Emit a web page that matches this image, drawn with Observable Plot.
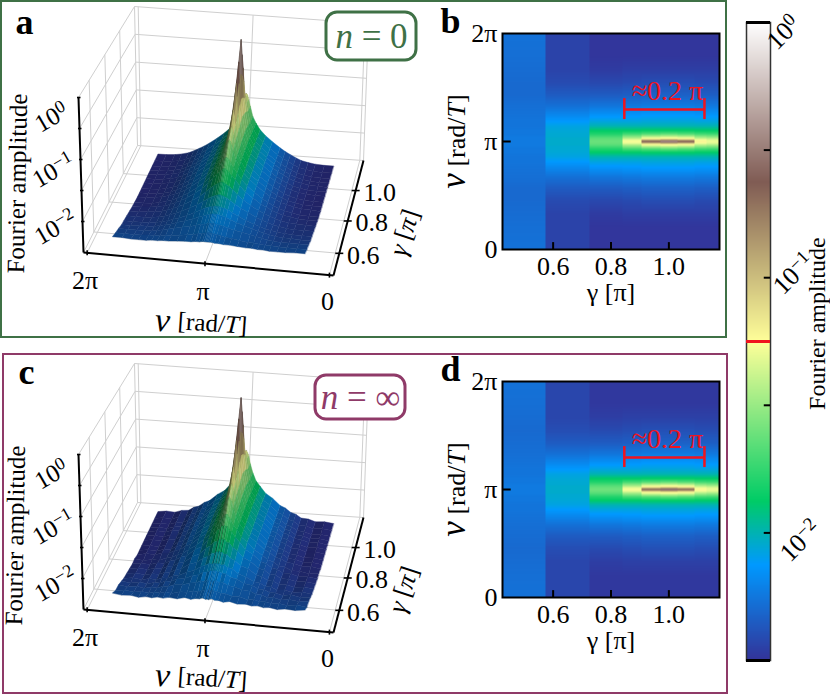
<!DOCTYPE html>
<html><head><meta charset="utf-8">
<script src="https://cdn.jsdelivr.net/npm/d3@7"></script>
<script src="https://cdn.jsdelivr.net/npm/@observablehq/plot@0.6"></script>
<style>
html,body{margin:0;padding:0;background:#fff}
#root{position:relative;width:830px;height:695px;overflow:hidden;font-family:"Liberation Serif",serif}
#root svg{position:absolute;background:transparent;overflow:visible}
.box{position:absolute;box-sizing:border-box}
</style></head><body><div id="root"></div>
<script>
const PI = Math.PI;
// colour map stops (position, colour)
const cmapStops = [0, 0.15, 0.25, 0.5, 0.75, 1];
const cmapColors = ["rgb(51,51,153)","rgb(0,153,255)","rgb(0,204,102)","rgb(255,255,153)","rgb(128,92,84)","rgb(255,255,255)"];
const logDomain = [-2.5, 0];

// heat-map columns (gamma bins, in units of pi) and |nu - pi| samples
const gammaEdges = [0.425, 0.575, 0.725, 0.84, 0.905, 0.97, 1.03, 1.09, 1.13, 1.175];
const heatOffsets = [0, 0.03, 0.06, 0.1, 0.15, 0.22, 0.32, 0.45, 0.6, 0.8, 1.05, 1.35, 1.7, 2.1, 2.5, 3.15];
// log10 amplitude per column
const heatB = [
 [-2.24,-2.24,-2.24,-2.24,-2.24,-2.25,-2.25,-2.26,-2.26,-2.27,-2.28,-2.30,-2.30,-2.29,-2.28,-2.27],
 [-2.04,-2.04,-2.04,-2.04,-2.05,-2.05,-2.06,-2.08,-2.13,-2.20,-2.28,-2.35,-2.41,-2.44,-2.44,-2.44],
 [-1.62,-1.62,-1.63,-1.66,-1.72,-1.80,-1.88,-2.00,-2.08,-2.16,-2.26,-2.35,-2.42,-2.47,-2.49,-2.49],
 [-1.27,-1.28,-1.33,-1.45,-1.56,-1.72,-1.88,-2.00,-2.08,-2.15,-2.25,-2.34,-2.41,-2.46,-2.49,-2.49],
 [-0.62,-0.80,-1.10,-1.28,-1.45,-1.68,-1.87,-2.00,-2.07,-2.14,-2.24,-2.33,-2.40,-2.46,-2.49,-2.49],
 [-0.30,-0.70,-1.05,-1.25,-1.42,-1.65,-1.87,-2.00,-2.07,-2.14,-2.24,-2.33,-2.40,-2.46,-2.49,-2.49],
 [-0.62,-0.80,-1.10,-1.28,-1.45,-1.68,-1.87,-2.00,-2.07,-2.14,-2.24,-2.33,-2.40,-2.46,-2.49,-2.49],
 [-1.20,-1.24,-1.31,-1.42,-1.55,-1.72,-1.88,-2.00,-2.08,-2.15,-2.25,-2.34,-2.41,-2.46,-2.49,-2.49],
 [-1.30,-1.31,-1.35,-1.46,-1.57,-1.73,-1.88,-2.00,-2.08,-2.15,-2.25,-2.34,-2.41,-2.46,-2.49,-2.49]
];
// same
const heatD = [
 [-2.24,-2.24,-2.24,-2.24,-2.24,-2.25,-2.25,-2.26,-2.26,-2.27,-2.28,-2.29,-2.30,-2.29,-2.28,-2.27],
 [-2.04,-2.04,-2.04,-2.04,-2.05,-2.05,-2.06,-2.08,-2.13,-2.20,-2.28,-2.35,-2.40,-2.43,-2.43,-2.43],
 [-1.60,-1.61,-1.63,-1.66,-1.72,-1.80,-1.88,-2.00,-2.08,-2.16,-2.26,-2.35,-2.41,-2.46,-2.48,-2.48],
 [-1.26,-1.28,-1.34,-1.45,-1.56,-1.72,-1.88,-2.00,-2.08,-2.15,-2.25,-2.34,-2.40,-2.45,-2.48,-2.48],
 [-0.64,-0.85,-1.12,-1.28,-1.45,-1.68,-1.87,-2.00,-2.07,-2.14,-2.24,-2.33,-2.39,-2.45,-2.48,-2.48],
 [-0.34,-0.75,-1.07,-1.25,-1.42,-1.65,-1.87,-2.00,-2.07,-2.14,-2.24,-2.33,-2.39,-2.45,-2.48,-2.48],
 [-0.64,-0.85,-1.12,-1.28,-1.45,-1.68,-1.87,-2.00,-2.07,-2.14,-2.24,-2.33,-2.39,-2.45,-2.48,-2.48],
 [-1.22,-1.25,-1.32,-1.42,-1.55,-1.72,-1.88,-2.00,-2.08,-2.15,-2.25,-2.34,-2.40,-2.45,-2.48,-2.48],
 [-1.30,-1.31,-1.35,-1.46,-1.57,-1.73,-1.88,-2.00,-2.08,-2.15,-2.25,-2.34,-2.40,-2.45,-2.48,-2.48]
];

// 3D surface samples
const surfGamma = [0.50,0.54,0.58,0.62,0.65,0.69,0.73,0.77,0.80,0.84,0.87,0.90,0.94,0.97,1.00,1.03,1.06,1.10,1.15];
const surfOffsets = [0,0.03,0.07,0.12,0.2,0.3,0.42,0.58,0.78,1.0,1.15,1.3,1.45,1.6,1.8,2.0,2.25,2.5];
const surfaceA = [
 [-2.24,-2.24,-2.24,-2.24,-2.25,-2.25,-2.26,-2.26,-2.27,-2.28,-2.28,-2.29,-2.29,-2.30,-2.30,-2.30,-2.29,-2.29],
 [-2.20,-2.20,-2.20,-2.21,-2.22,-2.23,-2.25,-2.26,-2.28,-2.30,-2.30,-2.31,-2.32,-2.32,-2.33,-2.33,-2.33,-2.33],
 [-2.15,-2.15,-2.15,-2.16,-2.17,-2.18,-2.20,-2.23,-2.25,-2.28,-2.30,-2.32,-2.34,-2.35,-2.36,-2.36,-2.36,-2.36],
 [-2.10,-2.10,-2.10,-2.11,-2.12,-2.14,-2.17,-2.21,-2.25,-2.29,-2.32,-2.34,-2.36,-2.38,-2.39,-2.39,-2.40,-2.40],
 [-2.05,-2.05,-2.05,-2.06,-2.07,-2.09,-2.13,-2.18,-2.24,-2.29,-2.32,-2.35,-2.37,-2.39,-2.40,-2.41,-2.41,-2.41],
 [-1.96,-1.96,-1.97,-1.98,-2.00,-2.04,-2.09,-2.15,-2.21,-2.28,-2.32,-2.35,-2.38,-2.40,-2.42,-2.43,-2.43,-2.43],
 [-1.85,-1.85,-1.86,-1.88,-1.91,-1.96,-2.03,-2.11,-2.19,-2.27,-2.31,-2.35,-2.38,-2.41,-2.43,-2.44,-2.45,-2.45],
 [-1.72,-1.72,-1.74,-1.77,-1.82,-1.89,-1.98,-2.08,-2.17,-2.26,-2.31,-2.35,-2.39,-2.42,-2.44,-2.46,-2.47,-2.47],
 [-1.60,-1.61,-1.64,-1.69,-1.76,-1.85,-1.95,-2.05,-2.15,-2.25,-2.30,-2.35,-2.39,-2.42,-2.45,-2.47,-2.48,-2.48],
 [-1.40,-1.42,-1.48,-1.58,-1.72,-1.83,-1.94,-2.04,-2.14,-2.24,-2.30,-2.35,-2.39,-2.42,-2.45,-2.47,-2.48,-2.49],
 [-1.25,-1.28,-1.38,-1.52,-1.70,-1.82,-1.94,-2.04,-2.14,-2.24,-2.30,-2.35,-2.39,-2.43,-2.46,-2.48,-2.49,-2.49],
 [-1.02,-1.12,-1.30,-1.48,-1.68,-1.81,-1.93,-2.03,-2.13,-2.23,-2.29,-2.34,-2.39,-2.43,-2.46,-2.48,-2.49,-2.49],
 [-0.65,-0.88,-1.18,-1.42,-1.65,-1.80,-1.92,-2.02,-2.13,-2.23,-2.29,-2.34,-2.39,-2.43,-2.46,-2.48,-2.49,-2.49],
 [-0.35,-0.72,-1.10,-1.38,-1.63,-1.79,-1.92,-2.02,-2.12,-2.23,-2.29,-2.34,-2.39,-2.43,-2.46,-2.48,-2.49,-2.49],
 [-0.02,-0.62,-1.05,-1.35,-1.62,-1.78,-1.91,-2.02,-2.12,-2.22,-2.28,-2.33,-2.38,-2.42,-2.45,-2.47,-2.48,-2.49],
 [-0.35,-0.72,-1.10,-1.38,-1.63,-1.79,-1.92,-2.02,-2.12,-2.23,-2.29,-2.34,-2.39,-2.43,-2.46,-2.48,-2.49,-2.49],
 [-0.65,-0.88,-1.18,-1.42,-1.65,-1.80,-1.92,-2.02,-2.13,-2.23,-2.29,-2.34,-2.39,-2.43,-2.46,-2.48,-2.49,-2.49],
 [-1.20,-1.24,-1.34,-1.50,-1.69,-1.81,-1.93,-2.03,-2.13,-2.23,-2.29,-2.34,-2.39,-2.43,-2.46,-2.48,-2.49,-2.49],
 [-1.30,-1.32,-1.40,-1.52,-1.70,-1.82,-1.93,-2.03,-2.13,-2.23,-2.29,-2.34,-2.39,-2.43,-2.46,-2.48,-2.49,-2.49]
];
const surfaceC = [
 [-2.24,-2.25,-2.24,-2.23,-2.25,-2.25,-2.27,-2.25,-2.28,-2.27,-2.29,-2.28,-2.30,-2.29,-2.31,-2.29,-2.30,-2.28],
 [-2.20,-2.21,-2.20,-2.21,-2.22,-2.24,-2.24,-2.27,-2.27,-2.31,-2.29,-2.32,-2.31,-2.33,-2.32,-2.34,-2.32,-2.34],
 [-2.15,-2.16,-2.15,-2.15,-2.18,-2.17,-2.21,-2.22,-2.26,-2.27,-2.31,-2.31,-2.35,-2.34,-2.37,-2.35,-2.37,-2.35],
 [-2.10,-2.09,-2.11,-2.10,-2.13,-2.13,-2.18,-2.20,-2.26,-2.28,-2.33,-2.33,-2.37,-2.37,-2.40,-2.38,-2.41,-2.39],
 [-2.05,-2.06,-2.05,-2.07,-2.06,-2.10,-2.12,-2.19,-2.23,-2.30,-2.31,-2.36,-2.36,-2.40,-2.39,-2.42,-2.40,-2.42],
 [-1.95,-1.97,-1.96,-1.99,-1.99,-2.05,-2.08,-2.16,-2.20,-2.29,-2.31,-2.36,-2.37,-2.41,-2.41,-2.44,-2.42,-2.44],
 [-1.84,-1.86,-1.85,-1.89,-1.90,-1.97,-2.02,-2.12,-2.18,-2.28,-2.30,-2.36,-2.37,-2.42,-2.42,-2.45,-2.44,-2.46],
 [-1.71,-1.73,-1.73,-1.78,-1.81,-1.90,-1.97,-2.09,-2.16,-2.27,-2.30,-2.36,-2.38,-2.43,-2.43,-2.47,-2.46,-2.48],
 [-1.60,-1.60,-1.65,-1.68,-1.77,-1.84,-1.96,-2.04,-2.16,-2.24,-2.31,-2.34,-2.40,-2.41,-2.46,-2.46,-2.49,-2.47],
 [-1.40,-1.43,-1.47,-1.59,-1.71,-1.84,-1.93,-2.05,-2.13,-2.25,-2.29,-2.36,-2.38,-2.43,-2.44,-2.48,-2.47,-2.50],
 [-1.25,-1.29,-1.37,-1.53,-1.69,-1.83,-1.93,-2.05,-2.13,-2.25,-2.29,-2.36,-2.38,-2.44,-2.45,-2.49,-2.48,-2.50],
 [-1.02,-1.13,-1.29,-1.49,-1.67,-1.82,-1.92,-2.04,-2.12,-2.24,-2.28,-2.35,-2.38,-2.44,-2.45,-2.49,-2.48,-2.50],
 [-0.65,-0.89,-1.17,-1.43,-1.64,-1.81,-1.91,-2.03,-2.12,-2.24,-2.28,-2.35,-2.38,-2.44,-2.45,-2.49,-2.48,-2.50],
 [-0.35,-0.73,-1.09,-1.39,-1.62,-1.80,-1.91,-2.03,-2.11,-2.24,-2.28,-2.35,-2.38,-2.44,-2.45,-2.49,-2.48,-2.50],
 [-0.04,-0.63,-1.04,-1.36,-1.61,-1.79,-1.90,-2.03,-2.11,-2.23,-2.27,-2.34,-2.37,-2.43,-2.44,-2.48,-2.47,-2.50],
 [-0.35,-0.73,-1.09,-1.39,-1.62,-1.80,-1.91,-2.03,-2.11,-2.24,-2.28,-2.35,-2.38,-2.44,-2.45,-2.49,-2.48,-2.50],
 [-0.65,-0.89,-1.17,-1.43,-1.64,-1.81,-1.91,-2.03,-2.12,-2.24,-2.28,-2.35,-2.38,-2.44,-2.45,-2.49,-2.48,-2.50],
 [-1.20,-1.25,-1.33,-1.51,-1.68,-1.82,-1.92,-2.04,-2.12,-2.24,-2.28,-2.35,-2.38,-2.44,-2.45,-2.49,-2.48,-2.50],
 [-1.30,-1.33,-1.39,-1.53,-1.69,-1.83,-1.92,-2.04,-2.12,-2.24,-2.28,-2.35,-2.38,-2.44,-2.45,-2.49,-2.48,-2.50]
];
// brightness streaks along gamma seen on surface c, one per nu strip
const streaksC = [1.02,0.97,1.02,0.98,1.01,0.97,1.03,0.98,1.01,0.97,1.02,0.99,1.01,0.99,1,1,1,1,1,1,1.01,0.99,1.02,0.98,1.01,0.97,1.02,0.98,1.01,0.97,1.03,0.98,1.01,0.98];
const streaksA = [];

// axis ticks
const nuTicks = [0, PI, 2*PI];
const nuTickLabels = ["0", "π", "2π"];
const gammaTicks = [0.6, 0.8, 1.0];
const zMinorTicks = [-2, -1.5, -1, -0.5, 0];
const zLabels = ["10^-2^", "10^-1^", "10^0^"];
const zLabelLevels = [-2, -1, 0];

const stopScale = d3.scaleLinear(cmapStops, cmapColors);
const interpolateMap = t => stopScale(t);
const colorOpts = {type: "linear", domain: logDomain, interpolate: interpolateMap};
const colorOf = Plot.scale({color: colorOpts});
const root = document.getElementById("root");
const serif = "Liberation Serif";

function place(svg, left, top) {
  svg.style.left = left + "px"; svg.style.top = top + "px";
  d3.select(svg).selectAll("text").each(function() {
    const s = this.textContent;
    if (/[*^#]/.test(s)) {
      this.innerHTML = s
        .replace(/#([^#]+)#/g, '<tspan font-style="italic" font-size="135%">$1</tspan>')
        .replace(/\*([^*]+)\*/g, '<tspan font-style="italic">$1</tspan>')
        .replace(/\^([^^]+)\^/g, (m, e) => `<tspan dy="-0.42em" font-size="72%">${e.replace("-", "−")}</tspan>`);
    }
  });
  root.appendChild(svg);
}
function addBox(left, top, w, h, color, bw) {
  const d = document.createElement("div");
  d.className = "box";
  d.style.cssText = `left:${left}px;top:${top}px;width:${w}px;height:${h}px;border:${bw}px solid ${color}`;
  root.appendChild(d);
}
function homography(p0, p1, p2, p3) {
  const sx = p0[0]-p1[0]+p2[0]-p3[0], sy = p0[1]-p1[1]+p2[1]-p3[1];
  const dx1 = p1[0]-p2[0], dx2 = p3[0]-p2[0], dy1 = p1[1]-p2[1], dy2 = p3[1]-p2[1];
  const den = dx1*dy2-dx2*dy1, g = (sx*dy2-dx2*sy)/den, h = (dx1*sy-sx*dy1)/den;
  const a = p1[0]-p0[0]+g*p1[0], b = p3[0]-p0[0]+h*p3[0], d = p1[1]-p0[1]+g*p1[1], e = p3[1]-p0[1]+h*p3[1];
  return (u, v) => { const w = g*u+h*v+1; return [(a*u+b*v+p0[0])/w, (d*u+e*v+p0[1])/w]; };
}
const floorMap = homography([333,275],[83,252],[137,145],[363,160]);
const topMap = homography([337,113],[78,97],[134,6],[368,23]);
const uOf = nu => (nu+0.1)/(2*PI+0.2), vOf = g => (g-0.47)/(1.21-0.47), wOf = z => (z+2.5)/2.5;
function proj(u, v, w) {
  const a = floorMap(u, v), b = topMap(u, v);
  return [a[0]+(b[0]-a[0])*w, a[1]+(b[1]-a[1])*w];
}
const P = (nu, g, z) => proj(uOf(nu), vOf(g), wOf(z));
const lightVec = [-0.67, -0.67, 0.33];
function shaded(z, n, k) {
  const s = (((n[0]*lightVec[0]+n[1]*lightVec[1]+n[2]*lightVec[2])+1)/2*0.7+0.3)*0.85*k;
  const c = d3.rgb(colorOf.apply(z));
  return d3.rgb(c.r*s, c.g*s, c.b*s).formatRgb();
}

function surfaceMarks(table, streaks) {
  const nus = [...surfOffsets].reverse().map(o => PI-o).concat(surfOffsets.slice(1).map(o => PI+o));
  const cols = [...surfOffsets].reverse().map((o,i) => surfOffsets.length-1-i).concat(surfOffsets.slice(1).map((o,i) => i+1));
  const nCols = nus.length;
  const order = d3.range(nCols-1).sort((a,b) => Math.abs(uOf((nus[b]+nus[b+1])/2)-0.45)-Math.abs(uOf((nus[a]+nus[a+1])/2)-0.45));
  const marks = [];
  for (let i = surfGamma.length-2; i >= 0; i--) {
    const quads = [];
    for (const j of order) {
      const z00 = table[i][cols[j]], z10 = table[i][cols[j+1]], z01 = table[i+1][cols[j]], z11 = table[i+1][cols[j+1]];
      const du = uOf(nus[j+1])-uOf(nus[j]), dv = vOf(surfGamma[i+1])-vOf(surfGamma[i]);
      const dzu = (wOf(z10)+wOf(z11)-wOf(z00)-wOf(z01))/2, dzv = (wOf(z01)+wOf(z11)-wOf(z00)-wOf(z10))/2;
      let n = [-dzu*dv*0.9, -dzv*du*0.2, du*dv];
      const len = Math.hypot(...n); n = n.map(c => c/len);
      const fill = shaded((z00+z10+z01+z11)/4, n, streaks[j] ?? 1);
      const a0 = P(nus[j], surfGamma[i], z00), b0 = P(nus[j], surfGamma[i+1], z01);
      const a1 = P(nus[j+1], surfGamma[i], z10), b1 = P(nus[j+1], surfGamma[i+1], z11);
      const id = i*1000+j;
      quads.push({id, fill, x1:a0[0], y1:a0[1], x2:b0[0], y2:b0[1]});
      quads.push({id, fill, x1:a1[0], y1:a1[1], x2:b1[0], y2:b1[1]});
    }
    marks.push(Plot.area(quads, {x1:"x1", y1:"y1", x2:"x2", y2:"y2", z:"id",
      fill:{value:d=>d.fill, scale:null}, stroke:{value:d=>d.fill, scale:null}, strokeWidth:0.4}));
    const rowLine = nus.map((nu,j) => { const p = P(nu, surfGamma[i], table[i][cols[j]]); return {x:p[0], y:p[1]}; });
    marks.push(Plot.line(rowLine, {x:"x", y:"y", stroke:"#000", strokeOpacity:0.14, strokeWidth:0.5}));
  }
  return marks;
}

function panel3D(o) {
  const wall = [];
  const seg = (a, b) => wall.push({x1:a[0], y1:a[1], x2:b[0], y2:b[1]});
  for (const z of zMinorTicks.concat([-2.5])) {
    seg(P(-0.1, 1.21, z), P(2*PI+0.1, 1.21, z));
    seg(P(2*PI+0.1, 0.47, z), P(2*PI+0.1, 1.21, z));
  }
  for (const nu of nuTicks) {
    seg(P(nu, 1.21, -2.5), P(nu, 1.21, 0));
    seg(P(nu, 0.47, -2.5), P(nu, 1.21, -2.5));
  }
  for (const g of gammaTicks) {
    seg(P(2*PI+0.1, g, -2.5), P(2*PI+0.1, g, 0));
    seg(P(-0.1, g, -2.5), P(2*PI+0.1, g, -2.5));
  }
  seg(P(2*PI+0.1, 1.21, -2.5), P(2*PI+0.1, 1.21, 0));
  seg(P(-0.1, 1.21, -2.5), P(-0.1, 1.21, 0));
  const axes = [
    {a:P(-0.1,0.47,-2.5), b:P(2*PI+0.1,0.47,-2.5)},
    {a:P(-0.1,0.47,-2.5), b:P(-0.1,1.21,-2.5)},
    {a:P(2*PI+0.1,0.47,-2.5), b:P(2*PI+0.1,0.47,0)}
  ].map(d => ({x1:d.a[0], y1:d.a[1], x2:d.b[0], y2:d.b[1]}));
  const ticks = [];
  nuTicks.forEach(nu => { const p = P(nu,0.47,-2.5); ticks.push({x1:p[0], y1:p[1]-2.5, x2:p[0], y2:p[1]+2.5}); });
  gammaTicks.forEach(g => { const p = P(-0.1,g,-2.5); ticks.push({x1:p[0]-4, y1:p[1], x2:p[0]+4, y2:p[1]}); });
  zMinorTicks.forEach(z => { const p = P(2*PI+0.1,0.47,z); ticks.push({x1:p[0]-1.5, y1:p[1], x2:p[0]+2, y2:p[1]}); });
  const marks = [
    Plot.link(wall, {x1:"x1", y1:"y1", x2:"x2", y2:"y2", stroke:"#cfcfcf", strokeWidth:1}),
    ...surfaceMarks(o.table, o.streaks),
    Plot.link(axes, {x1:"x1", y1:"y1", x2:"x2", y2:"y2", stroke:"#000", strokeWidth:2}),
    Plot.link(ticks, {x1:"x1", y1:"y1", x2:"x2", y2:"y2", stroke:"#000", strokeWidth:1.6})
  ];
  nuTicks.forEach((nu,i) => {
    const p = P(nu,0.47,-2.5);
    marks.push(Plot.text([nuTickLabels[i]], {x:()=>p[0], y:()=>p[1], text:d=>d, dx:-2, dy:nu===0?27:28, fontSize:26}));
  });
  gammaTicks.forEach(g => {
    const p = P(-0.1,g,-2.5);
    marks.push(Plot.text([g.toFixed(1)], {x:()=>p[0], y:()=>p[1], text:d=>d, dx:24, dy:2, fontSize:26}));
  });
  zLabelLevels.forEach((z,i) => {
    const p = P(2*PI+0.1,0.47,z);
    marks.push(Plot.text([zLabels[i]], {x:()=>p[0], y:()=>p[1], text:d=>d, dx:-27, dy:[6,11,20][i], rotate:-30, fontSize:25}));
  });
  const T = (s, x, y, extra) => Plot.text([s], {x:()=>x, y:()=>y, text:d=>d, ...extra});
  marks.push(T("Fourier amplitude", o.fourier[0], o.fourier[1], {rotate:-89, fontSize:25}));
  marks.push(T("*ν*", o.nuLab[0], o.nuLab[1], {rotate:4, fontSize:34}));
  marks.push(T("[rad/*T*]", o.nuLab[0]+50, o.nuLab[1]+3, {rotate:4, fontSize:25}));
  marks.push(T("*γ* [*π*]", o.gLab[0], o.gLab[1], {rotate:-72, fontSize:26}));
  marks.push(Plot.rect([o.box], {x1:d=>d[0], y1:d=>d[1], x2:d=>d[2], y2:d=>d[3], rx:11, fill:"#fff", stroke:o.color, strokeWidth:3}));
  marks.push(T(o.boxText, (o.box[0]+o.box[2])/2, (o.box[1]+o.box[3])/2, {fontSize:35, fill:o.color}));
  marks.push(T(o.letter, o.letterPos[0], o.letterPos[1], {fontSize:36, fontWeight:"bold"}));
  return Plot.plot({
    width:430, height:338, margin:0,
    x:{domain:[0,430], range:[0,430], axis:null},
    y:{domain:[0,338], range:[0,338], axis:null},
    style:{fontFamily:serif, background:"transparent"},
    marks
  });
}

function panelHeat(table, letter) {
  const rowScales = table.map(r => d3.scaleLinear(heatOffsets, r));
  const sample = (g, nu) => {
    const i = Math.min(table.length-1, Math.max(0, d3.bisectRight(gammaEdges, g)-1));
    return rowScales[i](Math.abs(nu-PI));
  };
  const gMin = gammaEdges[0], gMax = gammaEdges[gammaEdges.length-1];
  return Plot.plot({
    width:300, height:300, marginLeft:72, marginRight:11, marginTop:23, marginBottom:61,
    x:{domain:[gMin,gMax]},
    y:{domain:[0,2*PI]},
    color:colorOpts,
    style:{fontFamily:serif, background:"transparent"},
    marks:[
      Plot.raster({fill:sample, x1:gMin, x2:gMax, y1:0, y2:2*PI, width:217, height:216}),
      Plot.frame({stroke:"#000", strokeWidth:2}),
      Plot.ruleX(gammaTicks, {x:d=>d, y1:0, y2:0.2, stroke:"#000", strokeWidth:2}),
      Plot.ruleY([PI], {y:d=>d, x1:gMin, x2:gMin+0.03, stroke:"#000", strokeWidth:2}),
      Plot.axisX({ticks:gammaTicks, tickSize:0, tickPadding:7, tickFormat:d=>d.toFixed(1), fontSize:26, label:null}),
      Plot.axisY({ticks:nuTicks, tickSize:0, tickPadding:5, tickFormat:(d,i)=>nuTickLabels[nuTicks.indexOf(d)], fontSize:26, label:null}),
      Plot.text(["γ [π]"], {frameAnchor:"bottom", dy:51, text:d=>d, fontSize:26}),
      Plot.text(["#ν# [rad/*T*]"], {frameAnchor:"left", textAnchor:"middle", dx:-46, rotate:-90, text:d=>d, fontSize:26}),
      Plot.ruleY([4.07], {y:d=>d, x1:0.846, x2:1.123, stroke:"#f0141e", strokeWidth:2.5}),
      Plot.ruleX([0.846, 1.123], {x:d=>d, y1:3.78, y2:4.39, stroke:"#f0141e", strokeWidth:2.5}),
      Plot.text(["≈0.2 π"], {x:()=>0.995, y:()=>4.62, text:d=>d, fill:"#f0141e", fontSize:28}),
      Plot.text([letter], {frameAnchor:"top-left", dx:-62, dy:-26, text:d=>d, fontSize:36, fontWeight:"bold"})
    ]
  });
}

function colorbar() {
  const marks = [
    Plot.raster({fill:(x,y)=>y, x1:0, x2:1, y1:logDomain[0], y2:logDomain[1], width:24, height:638}),
    Plot.frame({stroke:"#333", strokeWidth:1.5}),
    Plot.ruleY(logDomain, {y:d=>d, x1:0, x2:1, stroke:"#000", strokeWidth:3}),
    Plot.ruleY([-0.5,-1,-1.5,-2], {y:d=>d, x1:0.74, x2:1, stroke:"#000", strokeWidth:2}),
    Plot.ruleY([-1.25], {y:d=>d, x1:0, x2:1, stroke:"#f0141e", strokeWidth:3}),
    Plot.text(["Fourier amplitude"], {x:()=>1, y:()=>-1.18, dx:47, rotate:-90, text:d=>d, fontSize:24})
  ];
  const offs = [[13,10],[23,-4],[30,8]];
  [0,-1,-2].forEach((z,i) => {
    marks.push(Plot.text([["10^0^","10^-1^","10^-2^"][i]], {x:()=>1, y:()=>z, text:d=>d, dx:offs[i][0], dy:offs[i][1], rotate:-45, fontSize:26}));
  });
  return Plot.plot({
    width:100, height:695, marginLeft:16, marginRight:60, marginTop:22, marginBottom:35,
    x:{domain:[0,1], axis:null},
    y:{domain:logDomain, axis:null},
    color:colorOpts,
    style:{fontFamily:serif, background:"transparent"},
    marks
  });
}

addBox(0, 0, 727, 338, "#3f7146", 2.5);
addBox(2, 353, 726, 341, "#8f3a68", 2.5);

place(panel3D({table:surfaceA, streaks:streaksA, fourier:[17,183], nuLab:[162,320], gLab:[404,232], box:[326,12,416,60], color:"#3f7146", boxText:"*n* = 0", letter:"a", letterPos:[24,22]}), 0, 0);
place(panel3D({table:surfaceC, streaks:streaksC, fourier:[15,178], nuLab:[162,318], gLab:[403,232], box:[315,18,405,62], color:"#8f3a68", boxText:"*n* = ∞", letter:"c", letterPos:[26,15]}), 0, 357);
place(panelHeat(heatB, "b"), 430, 10);
place(panelHeat(heatD, "d"), 430, 358);
place(colorbar(), 730, 0);
</script></body></html>
